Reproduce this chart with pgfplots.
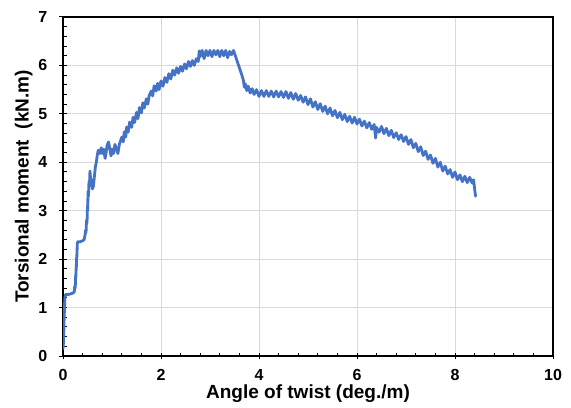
\documentclass[border=0pt]{standalone}
\usepackage{fontspec}
\setmainfont{Liberation Sans}
\usepackage{pgfplots}
\pgfplotsset{compat=1.18}
\definecolor{lineblue}{RGB}{68,114,196}
\definecolor{gridgray}{RGB}{217,217,217}
\begin{document}
\begin{tikzpicture}
\useasboundingbox (0,0) rectangle (571bp,408bp);
\begin{axis}[
  at={(63bp,52bp)}, anchor=south west,
  scale only axis, width=490bp, height=339bp,
  xmin=0, xmax=10, ymin=0, ymax=7,
  xtick={0,2,...,10}, ytick={0,1,...,7},
  minor x tick num=4, minor y tick num=4,
  tick pos=left, tick align=center,
  major tick length=7bp, minor tick length=3.5bp,
  minor x tick style={yshift=1.75bp},
  minor y tick style={xshift=1.75bp},
  every tick/.style={black, line width=1bp},
  grid=major, major grid style={draw=gridgray, line width=1bp},
  axis line style={black, line width=1.3bp},
  /pgf/number format/assume math mode=true,
  tick label style={font=\fontsize{16bp}{18bp}\selectfont\bfseries, inner sep=0pt},
  xticklabel style={anchor=north, yshift=-10bp},
  yticklabel style={anchor=east, xshift=-12bp},
  xlabel={Angle of twist (deg./m)},
  ylabel={Torsional moment\ \ (kN.m)},
  label style={font=\fontsize{19bp}{22bp}\selectfont\bfseries, inner sep=0pt},
  xlabel style={at={(axis description cs:0.5,0)}, anchor=base, yshift=-42bp},
  ylabel style={at={(axis description cs:-0.08,0.5)}, anchor=center},
  clip=true,
]
\addplot[lineblue, line width=2.8bp, line join=round, line cap=round] coordinates {
(0.0,0.15)(0.01,0.3)(0.005,0.2)(0.015,0.45)(0.01,0.35)(0.02,0.6)(0.015,0.55)(0.025,0.8)(0.02,0.7)(0.03,0.95)(0.025,0.9)(0.035,1.1)(0.03,1.05)(0.04,1.2)(0.05,1.27)
(0.1,1.27)(0.15,1.28)(0.2,1.3)(0.23,1.32)(0.24,1.45)(0.25,1.4)(0.26,1.7)(0.265,1.65)(0.27,1.9)(0.275,1.85)(0.28,2.1)(0.285,2.05)(0.29,2.3)(0.3,2.36)(0.35,2.36)(0.4,2.38)(0.43,2.4)(0.45,2.5)(0.46,2.6)(0.47,2.55)(0.48,2.8)(0.49,2.75)(0.5,3.1)(0.505,3.0)(0.51,3.4)(0.52,3.3)(0.53,3.6)(0.54,3.5)(0.55,3.82)(0.56,3.7)(0.57,3.55)(0.58,3.65)(0.6,3.45)(0.62,3.5)(0.64,3.7)(0.66,3.9)(0.68,4.0)(0.7,4.15)(0.72,4.25)(0.75,4.18)(0.78,4.3)(0.8,4.18)(0.83,4.27)(0.86,4.08)(0.88,4.2)(0.9,4.35)(0.93,4.42)(0.95,4.3)(0.98,4.13)(1.0,4.27)(1.03,4.18)(1.06,4.37)(1.09,4.28)(1.12,4.18)(1.15,4.37)(1.2,4.52)(1.23,4.42)(1.25,4.63)(1.28,4.52)(1.3,4.73)(1.33,4.62)(1.36,4.83)(1.4,4.72)(1.43,4.93)(1.46,4.82)(1.5,5.03)(1.53,4.9)(1.56,5.13)(1.6,5.02)(1.63,5.23)(1.66,5.12)(1.7,5.31)(1.73,5.2)(1.76,5.38)(1.8,5.47)(1.83,5.37)(1.86,5.58)(1.9,5.47)(1.93,5.63)(1.96,5.5)(2.0,5.68)(2.04,5.57)(2.08,5.75)(2.12,5.65)(2.16,5.83)(2.2,5.72)(2.24,5.9)(2.28,5.8)(2.32,5.95)(2.36,5.84)(2.4,5.98)(2.44,5.88)(2.48,6.03)(2.52,5.93)(2.56,6.08)(2.6,5.98)(2.64,6.1)(2.68,6.0)(2.72,6.14)(2.76,6.08)(2.78,6.3)(2.8,6.18)(2.84,6.31)(2.88,6.14)(2.92,6.31)(2.96,6.2)(3.0,6.31)(3.04,6.18)(3.08,6.31)(3.12,6.22)(3.16,6.31)(3.2,6.18)(3.24,6.31)(3.28,6.2)(3.32,6.31)(3.36,6.16)(3.4,6.29)(3.44,6.22)(3.48,6.31)(3.5,6.25)(3.55,6.1)(3.6,5.95)(3.65,5.8)(3.68,5.7)(3.7,5.55)(3.72,5.62)(3.75,5.48)(3.78,5.57)(3.82,5.43)(3.86,5.52)(3.9,5.4)(3.95,5.5)
(4.00,5.36)(4.05,5.48)(4.10,5.36)(4.15,5.48)(4.20,5.36)(4.25,5.47)(4.30,5.35)(4.35,5.47)(4.40,5.35)(4.45,5.46)(4.50,5.34)(4.55,5.46)(4.60,5.32)(4.65,5.44)(4.70,5.30)(4.75,5.42)(4.80,5.28)(4.85,5.38)(4.90,5.24)(4.95,5.35)(5.00,5.19)(5.05,5.31)(5.10,5.14)(5.15,5.25)(5.20,5.09)(5.25,5.21)(5.30,5.05)(5.35,5.16)(5.40,5.00)(5.45,5.12)(5.50,4.96)(5.55,5.07)(5.60,4.92)(5.65,5.03)(5.70,4.88)(5.75,4.99)(5.80,4.84)(5.85,4.95)(5.90,4.81)(5.95,4.93)(6.00,4.79)(6.05,4.89)(6.10,4.75)(6.15,4.85)(6.20,4.71)(6.25,4.82)(6.30,4.68)(6.35,4.78)(6.38,4.50)(6.40,4.72)(6.45,4.62)(6.50,4.74)(6.55,4.59)(6.60,4.70)(6.65,4.55)(6.70,4.66)(6.75,4.51)(6.80,4.61)(6.85,4.47)(6.90,4.57)(6.95,4.43)(7.00,4.53)(7.05,4.37)(7.10,4.47)(7.15,4.30)(7.20,4.39)(7.25,4.22)(7.30,4.32)(7.35,4.14)(7.40,4.23)(7.45,4.06)(7.50,4.15)(7.55,3.98)(7.60,4.08)(7.65,3.90)(7.70,4.00)(7.75,3.82)(7.80,3.92)(7.85,3.76)(7.90,3.85)(7.95,3.69)(8.00,3.80)(8.05,3.64)(8.10,3.74)(8.15,3.60)(8.20,3.71)(8.25,3.58)(8.30,3.69)(8.35,3.57)(8.38,3.64)(8.40,3.45)(8.42,3.30)
};
\end{axis}
\end{tikzpicture}
\end{document}
